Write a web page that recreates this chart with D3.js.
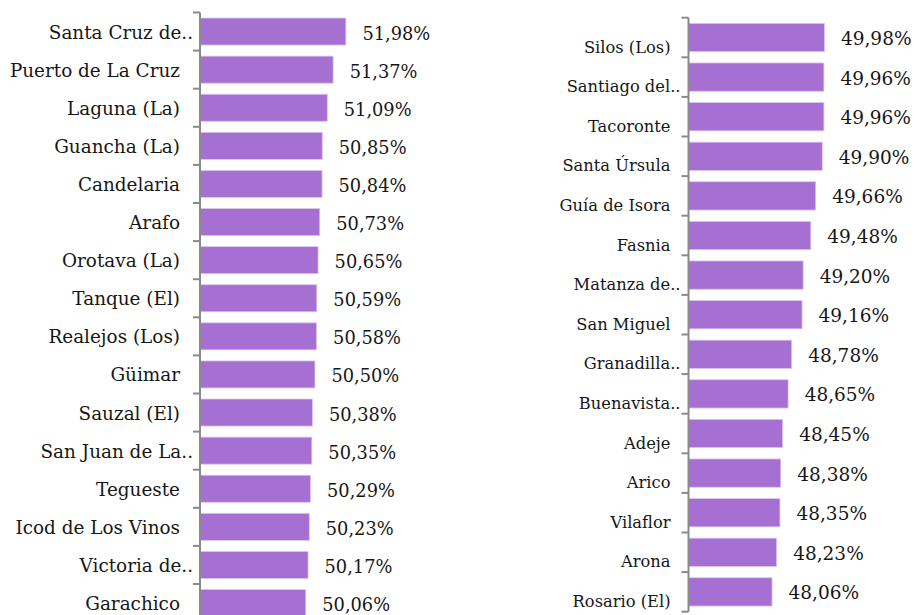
<!DOCTYPE html>
<html>
<head>
<meta charset="utf-8">
<script src="https://cdn.jsdelivr.net/npm/d3@7"></script>
<style>
  html, body { margin: 0; padding: 0; background: #fff; }
  svg { display: block; }
  text { font-family: "DejaVu Serif", serif; fill: #161616; }
</style>
</head>
<body>
<svg id="chart" width="914" height="615"></svg>
<script>
// Municipios: primera columna
const leftNames = [
  "Santa Cruz de..", "Puerto de La Cruz", "Laguna (La)", "Guancha (La)", "Candelaria",
  "Arafo", "Orotava (La)", "Tanque (El)", "Realejos (Los)", "Güimar",
  "Sauzal (El)", "San Juan de La..", "Tegueste", "Icod de Los Vinos", "Victoria de..",
  "Garachico"
];
const leftValues = [
  51.98, 51.37, 51.09, 50.85, 50.84,
  50.73, 50.65, 50.59, 50.58, 50.50,
  50.38, 50.35, 50.29, 50.23, 50.17,
  50.06
];

// Municipios: segunda columna
const rightNames = [
  "Silos (Los)", "Santiago del..", "Tacoronte", "Santa Úrsula", "Guía de Isora",
  "Fasnia", "Matanza de..", "San Miguel", "Granadilla..", "Buenavista..",
  "Adeje", "Arico", "Vilaflor", "Arona", "Rosario (El)"
];
const rightValues = [
  49.98, 49.96, 49.96, 49.90, 49.66,
  49.48, 49.20, 49.16, 48.78, 48.65,
  48.45, 48.38, 48.35, 48.23, 48.06
];

const fmt = v => d3.format(".2f")(v).replace(".", ",") + "%";

const svg = d3.select("#chart");

function panel(cfg) {
  const data = cfg.names.map((n, i) => ({ name: n, value: cfg.values[i] }));
  const n = data.length;

  const y = d3.scaleBand()
    .domain(cfg.names)
    .range([cfg.top, cfg.top + cfg.step * n])
    .paddingInner(cfg.pad)
    .paddingOuter(cfg.pad / 2);

  const x = d3.scaleLinear()
    .domain([45, 50])
    .range([cfg.axisX, cfg.axisX + cfg.unit * 5]);

  const g = svg.append("g");

  // bars
  g.selectAll("rect.bar")
    .data(data)
    .join("rect")
    .attr("class", "bar")
    .attr("x", x(45))
    .attr("y", d => y(d.name))
    .attr("width", d => x(d.value) - x(45))
    .attr("height", y.bandwidth())
    .attr("fill", "#a66fd2")
    .attr("stroke", "#dcc8f0")
    .attr("stroke-width", 0.8);

  // axis line with ticks at band boundaries
  const bounds = d3.range(n + 1).map(i => cfg.top + cfg.step * i);
  g.append("line")
    .attr("x1", cfg.axisX).attr("x2", cfg.axisX)
    .attr("y1", bounds[0]).attr("y2", bounds[n])
    .attr("stroke", "#8a8a8a").attr("stroke-width", 2);
  g.selectAll("line.tick")
    .data(bounds)
    .join("line")
    .attr("class", "tick")
    .attr("x1", cfg.axisX - 7).attr("x2", cfg.axisX)
    .attr("y1", d => d).attr("y2", d => d)
    .attr("stroke", "#8a8a8a").attr("stroke-width", 2);

  // category labels
  g.selectAll("text.cat")
    .data(data)
    .join("text")
    .attr("class", "cat")
    .attr("text-anchor", "end")
    .attr("font-size", cfg.catSize)
    .attr("x", d => cfg.axisX - (d.name.endsWith("..") ? cfg.catGapShort : cfg.catGap))
    .attr("y", d => y(d.name) + y.bandwidth() / 2 + cfg.catDy)
    .text(d => d.name);

  // value labels
  g.selectAll("text.val")
    .data(data)
    .join("text")
    .attr("class", "val")
    .attr("font-size", cfg.valSize)
    .attr("x", d => x(d.value) + 16.5)
    .attr("y", d => y(d.name) + y.bandwidth() / 2 + cfg.valDy)
    .text(d => fmt(d.value));
}

panel({
  names: leftNames, values: leftValues,
  top: 12.5, step: 38.1, pad: 0.29,
  axisX: 200, unit: 20.9,
  catSize: 18.4, catGap: 20, catGapShort: 7, catDy: 7,
  valSize: 17.8, valDy: 8
});

panel({
  names: rightNames, values: rightValues,
  top: 17.7, step: 39.6, pad: 0.285,
  axisX: 688.5, unit: 27.3,
  catSize: 16.3, catGap: 18, catGapShort: 8, catDy: 15,
  valSize: 18.5, valDy: 7.5
});
</script>
</body>
</html>
